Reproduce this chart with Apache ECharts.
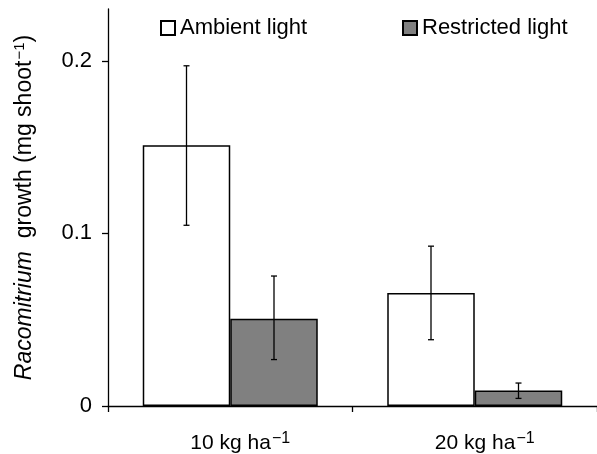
<!DOCTYPE html>
<html>
<head>
<meta charset="utf-8">
<script src="https://cdn.jsdelivr.net/npm/echarts@6/dist/echarts.min.js"></script>
<style>
  html, body { margin: 0; padding: 0; background: #fff; }
  #chart { width: 597px; height: 454px; }
</style>
</head>
<body>
<div id="chart"></div>
<script>
// 数据
const categories = ['10', '20']
const ambientMean = [0.151, 0.0654]
const restrictedMean = [0.0506, 0.009]
// 误差线 [下限, 上限]
const ambientErr = [[0.1047, 0.1971], [0.0384, 0.0926]]
const restrictedErr = [[0.0269, 0.0753], [0.0044, 0.0133]]
const yTicks = [0, 0.1, 0.2]

const font = 'Liberation Sans, Arial, sans-serif'
const barW = 87.5

const chart = echarts.init(document.getElementById('chart'))

//误差线
const errSeries = (errs, dir) => ({
  type: 'custom',
  z: 5,
  data: errs.map((e, i) => [i, e[0], e[1]]),
  renderItem: (params, api) => {
    const lo = api.coord([api.value(0), api.value(1)])
    const hi = api.coord([api.value(0), api.value(2)])
    const x = lo[0] + dir * barW / 2
    const cap = 3
    const style = {stroke: '#000', lineWidth: 1.3}
    return {
      type: 'group',
      children: [
        {type: 'line', shape: {x1: x, y1: lo[1], x2: x, y2: hi[1]}, style},
        {type: 'line', shape: {x1: x - cap, y1: lo[1], x2: x + cap, y2: lo[1]}, style},
        {type: 'line', shape: {x1: x - cap, y1: hi[1], x2: x + cap, y2: hi[1]}, style}
      ]
    }
  }
})

const option = {
  animation: false,
  textStyle: {fontFamily: font},
  grid: {left: 108, right: 0, top: 9, bottom: 46},
  legend: [
    {
      data: ['Ambient light'],
      left: 155, top: 12,
      itemWidth: 14, itemHeight: 14, icon: 'rect',
      textStyle: {fontSize: 22, color: '#000', fontFamily: font},
      selectedMode: false
    },
    {
      data: ['Restricted light'],
      left: 397, top: 12,
      itemWidth: 14, itemHeight: 14, icon: 'rect',
      textStyle: {fontSize: 22, color: '#000', fontFamily: font},
      selectedMode: false
    }
  ],
  xAxis: {
    type: 'category',
    data: categories,
    boundaryGap: true,
    axisLine: {lineStyle: {color: '#000', width: 1.3}},
    axisTick: {show: true, length: 6, lineStyle: {color: '#000', width: 1.3}},
    axisLabel: {
      margin: 25,
      padding: [0, 0, 0, 20],
      formatter: (v) => `{n|${v} kg ha}{s|−1}`,
      rich: {
        n: {fontSize: 21, color: '#000', fontFamily: font},
        s: {fontSize: 16, color: '#000', fontFamily: font, padding: [0, 0, 9, 1]}
      }
    }
  },
  yAxis: {
    type: 'value',
    min: 0,
    max: 0.23,
    interval: 0.1,
    splitLine: {show: false},
    axisLine: {show: true, lineStyle: {color: '#000', width: 1.3}},
    axisTick: {show: true, length: 6, customValues: yTicks, lineStyle: {color: '#000', width: 1.3}},
    axisLabel: {
      customValues: yTicks,
      margin: 16,
      fontSize: 22,
      color: '#000',
      fontFamily: font,
      formatter: (v) => v === 0 ? '0' : String(v)
    },
    name: '{i|Racomitrium}{t|  growth (mg shoot}{s|−1}{t|)}',
    nameLocation: 'middle',
    nameGap: 70,
    nameTextStyle: {
      rich: {
        i: {fontSize: 23, fontStyle: 'italic', color: '#000', fontFamily: font},
        t: {fontSize: 23, color: '#000', fontFamily: font},
        s: {fontSize: 15, color: '#000', fontFamily: font, padding: [0, 0, 11, 1]}
      }
    }
  },
  series: [
    {
      name: 'Ambient light',
      type: 'bar',
      data: ambientMean,
      barWidth: barW,
      barGap: '0%',
      itemStyle: {color: '#fff', borderColor: '#000', borderWidth: 1.5}
    },
    {
      name: 'Restricted light',
      type: 'bar',
      data: restrictedMean,
      barWidth: barW,
      barGap: '0%',
      itemStyle: {color: '#808080', borderColor: '#000', borderWidth: 1.5}
    },
    errSeries(ambientErr, -1),
    errSeries(restrictedErr, 1)
  ]
}
chart.setOption(option)
</script>
</body>
</html>
